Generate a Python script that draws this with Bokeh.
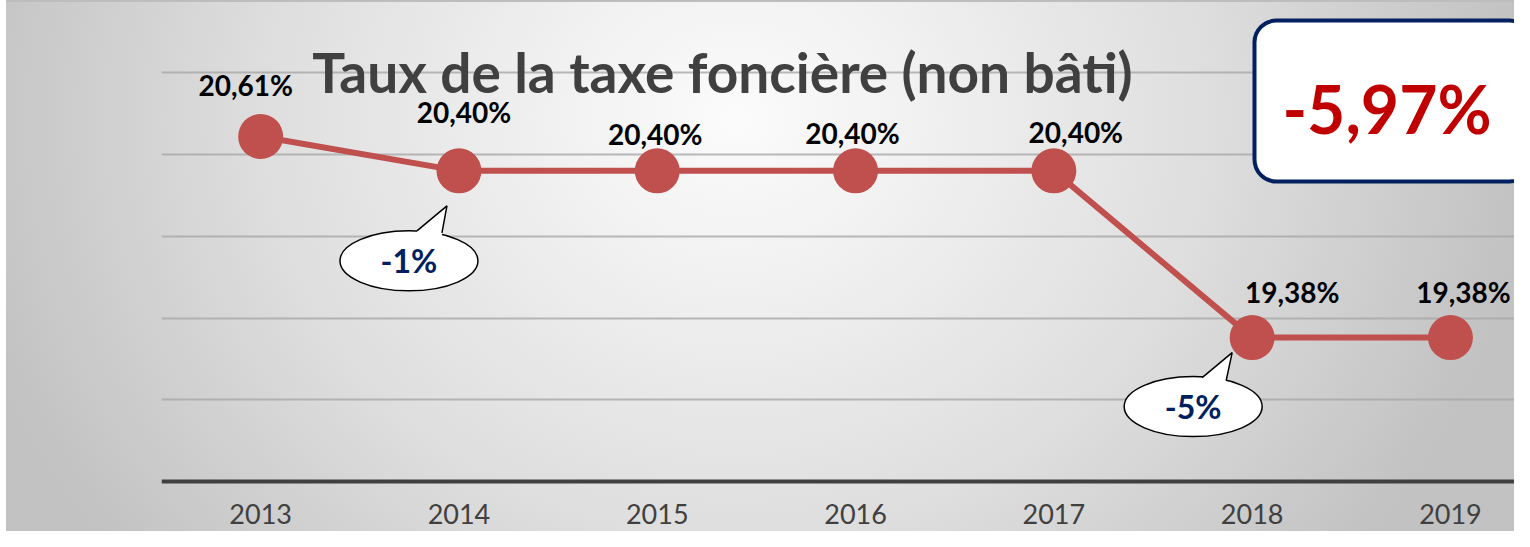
from bokeh.plotting import figure
from bokeh.models import Range1d, FixedTicker, ColumnDataSource, LabelSet, Label, BoxAnnotation
from bokeh.core.properties import value
from bokeh.embed import file_html
from bokeh.resources import INLINE

# ---------------- data ----------------
years = ["2013", "2014", "2015", "2016", "2017", "2018", "2019"]
rates = [20.61, 20.40, 20.40, 20.40, 20.40, 19.38, 19.38]
grid_values = [19.0, 19.5, 20.0, 20.5, 21.0]
axis_base = 18.5
callout_index = [1, 5]
callout_texts = ["-1%", "-5%"]
headline = "-5,97%"
title_text = "Taux de la taxe foncière (non bâti)"

# ---------------- layout / styles ----------------
W, H = 1514, 531
LEFT = 161            # px left of the plot frame
PX_X = 198.3          # px per category
PX_Y = 163.5          # px per value unit
AXIS_PX = 481         # figure px (from top) of the axis line
FONT = "Lato"
RED = "#C0504D"
NAVY = "#002060"

label_dx = [-15, 5, -2, -3, 22, 40, 13]
label_dy = [41, 48, 26, 27, 28, 35, 35]
callout_center_off = [(-50, 90), (-59, 69)]
callout_tip_off = [(-12, 35), (-20, 15)]
callout_base_off = [((-42, 60), (-17, 62)), ((-50, 40), (-26, 43))]

x0 = -0.5
x1 = x0 + (W - LEFT) / PX_X
y0 = axis_base - (H - AXIS_PX) / PX_Y
y1 = y0 + H / PX_Y


def fx(px):
    return x0 + (px - LEFT) / PX_X


def fy(py):
    return y1 - py / PX_Y


p = figure(width=W, height=H, output_backend="svg", toolbar_location=None,
           x_range=Range1d(x0, x1), y_range=Range1d(y0, y1),
           min_border_left=LEFT, min_border_right=0, min_border_top=0, min_border_bottom=0)
p.background_fill_color = None
p.border_fill_color = None
p.outline_line_color = None
p.styles = {
    "background": (
        "linear-gradient(#bdbdbd, #bdbdbd) 6px 0px / 100% 2px no-repeat, "
        "radial-gradient(ellipse 790px 700px at 730px 118px, #fbfbfb 0%, #f0f0f0 25%, #dedede 60%, #c2c2c2 100%) "
        "6px 0px / calc(100% - 6px) 100% no-repeat, #ffffff"
    )
}

p.yaxis.visible = False
p.xgrid.visible = False
p.ygrid.ticker = FixedTicker(ticks=grid_values)
p.ygrid.grid_line_color = "#a8a8a8"
p.ygrid.grid_line_width = 2
p.ygrid.grid_line_alpha = 0.8

ax = p.xaxis[0]
ax.fixed_location = axis_base
ax.ticker = FixedTicker(ticks=list(range(len(years))))
ax.major_label_overrides = {i: y for i, y in enumerate(years)}
ax.axis_line_color = "#404040"
ax.axis_line_width = 4
ax.major_tick_line_color = None
ax.minor_tick_line_color = None
ax.major_label_text_font = FONT
ax.major_label_text_font_size = "27px"
ax.major_label_text_color = "#404040"
ax.major_label_standoff = 16

xs = list(range(len(years)))
src = ColumnDataSource(dict(
    x=xs, y=rates,
    label=[("%.2f" % v).replace(".", ",") + "%" for v in rates],
    dx=label_dx, dy=label_dy,
))

p.line("x", "y", source=src, line_color=RED, line_width=6)
p.scatter("x", "y", source=src, size=45, fill_color=RED, line_color=None)

p.add_layout(LabelSet(x="x", y="y", text="label", source=src, x_offset="dx", y_offset="dy",
                      text_align="center", text_baseline="alphabetic",
                      text_font=value(FONT), text_font_style="bold",
                      text_font_size="28px", text_color="#000000"))

# callouts
for i, k in enumerate(callout_index):
    kx, ky = xs[k], rates[k]
    cx = kx + callout_center_off[i][0] / PX_X
    cy = ky - callout_center_off[i][1] / PX_Y
    tx = kx + callout_tip_off[i][0] / PX_X
    ty = ky - callout_tip_off[i][1] / PX_Y
    (b1x, b1y), (b2x, b2y) = callout_base_off[i]
    bx = [kx + b1x / PX_X, kx + b2x / PX_X]
    by = [ky - b1y / PX_Y, ky - b2y / PX_Y]
    p.ellipse(x=[cx], y=[cy], width=138, height=60, width_units="screen", height_units="screen",
              fill_color="white", line_color="black", line_width=1.5)
    p.patch([bx[0], tx, bx[1], bx[1], bx[0]],
            [by[0], ty, by[1], by[1] - 5 / PX_Y, by[0] - 5 / PX_Y],
            fill_color="white", line_color=None)
    p.line([bx[0], tx, bx[1]], [by[0], ty, by[1]], line_color="black", line_width=1.5)
    p.add_layout(Label(x=cx, y=cy, text=callout_texts[i], text_align="center",
                       text_baseline="middle", text_font=FONT, text_font_style="bold",
                       text_font_size="32px", text_color=NAVY))

# title
p.add_layout(Label(x=fx(722), y=fy(71), text=title_text, text_align="center",
                   text_baseline="alphabetic", text_font=FONT, text_font_style="bold",
                   text_font_size="55px", text_color="#404040"))

# headline box
p.add_layout(BoxAnnotation(left=fx(1254), right=fx(1531), top=fy(20), bottom=fy(181),
                           fill_color="white", fill_alpha=1.0, line_color=NAVY, line_alpha=1.0,
                           line_width=4, border_radius=22))
p.add_layout(Label(x=fx(1386.5), y=fy(108), text=headline, text_align="center",
                   text_baseline="alphabetic", text_font=FONT, text_font_style="bold",
                   text_font_size="66px", text_color="#C00000"))

open("out.html", "w").write(file_html(p, INLINE))
